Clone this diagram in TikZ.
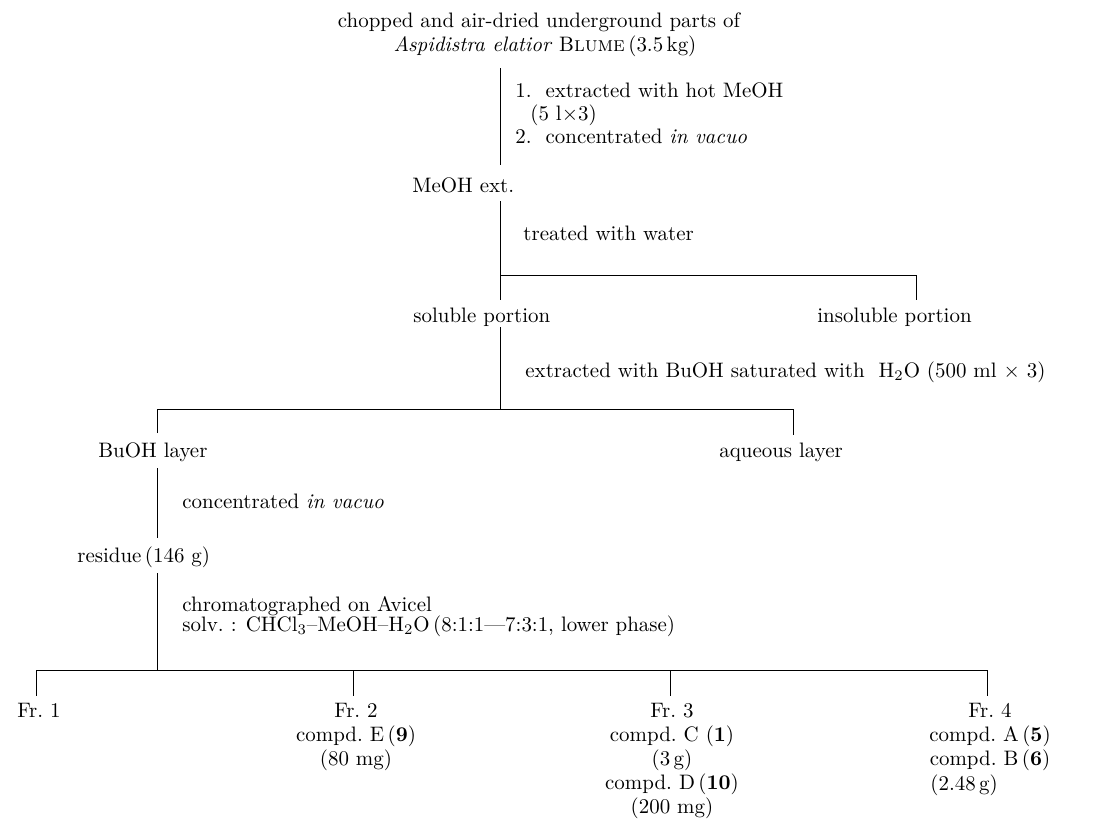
\documentclass[tikz,border=0pt]{standalone}
\usepackage{amsmath}
\usepackage{tikz}
\usetikzlibrary{positioning,calc}

\begin{document}
\begin{tikzpicture}[
  x=0.0168cm, y=-0.0168cm,
  lab/.style={font=\fontsize{10}{11.5}\selectfont, inner sep=0pt, anchor=base west},
  cen/.style={font=\fontsize{10}{11.5}\selectfont, inner sep=0pt, anchor=base},
  frc/.style={font=\fontsize{10}{11.5}\selectfont, inner sep=0pt, anchor=north, align=center},
  ln/.style={line width=0.45pt, black},
]
\useasboundingbox (0,0) rectangle (1115,834);

% Top: starting material and MeOH extraction
\node[cen] (src1) at (539,28) {chopped and air-dried underground parts of};
\node[cen] (src2) at (545,52) {\textit{Aspidistra elatior} B\textsc{lume}\,(3.5\,kg)};
\node[lab] (st1) at (515,98) {1.\ \ extracted with hot MeOH};
\node[lab] (st1b) at (530,120) {(5 l$\times$3)};
\node[lab] (st2) at (515,143) {2.\ \ concentrated \textit{in vacuo}};
\node[lab] (meoh) at (412,192) {MeOH ext.};
\coordinate (a0) at (500,68);
\coordinate (a1) at (500,165);
\draw[ln] (a0) -- (a1);

% water partition
\node[lab] (water) at (523,240) {treated with water};
\node[lab] (sol) at (413,322) {soluble portion};
\node[lab] (insol) at (817,322) {insoluble portion};
\coordinate (b0) at (500,201);
\coordinate (b1) at (500,300);
\coordinate (b2) at (500,275);
\coordinate (b3) at (916,275);
\coordinate (b4) at (916,300);
\draw[ln] (b0) -- (b1);
\draw[ln] (b2) -- (b3) -- (b4);

% BuOH partition
\node[lab] (buext) at (525,377) {extracted with BuOH saturated with \ H$_2$O (500 ml $\times$ 3)};
\node[lab] (buoh) at (98,457) {BuOH layer};
\node[lab] (aq) at (719,457) {aqueous layer};
\coordinate (c0) at (500,327);
\coordinate (c1) at (500,409);
\coordinate (c2) at (157,409);
\coordinate (c3) at (793,409);
\coordinate (c4) at (157,433);
\coordinate (c5) at (793,435);
\draw[ln] (c0) -- (c1);
\draw[ln] (c4) -- (c2) -- (c3) -- (c5);

% concentration of BuOH layer
\node[lab] (conc) at (182,508) {concentrated \textit{in vacuo}};
\node[lab] (res) at (77,562) {residue\,(146 g)};
\coordinate (d0) at (157,468);
\coordinate (d1) at (157,538);
\draw[ln] (d0) -- (d1);

% column chromatography
\node[lab] (chr1) at (182,611) {chromatographed on Avicel};
\node[lab] (chr2) at (182,631) {solv.\ : CHCl$_3$--MeOH--H$_2$O\,(8:1:1---7:3:1, lower phase)};
\coordinate (e0) at (157,573);
\coordinate (e1) at (157,670);
\coordinate (e2) at (36,670);
\coordinate (e3) at (987,670);
\draw[ln] (e0) -- (e1);
\draw[ln] (e2) -- (e3);
\foreach \x/\n in {36/1, 353/2, 670/3, 987/4}{
  \coordinate (f\n) at (\x,670);
  \coordinate (g\n) at (\x,696);
  \draw[ln] (f\n) -- (g\n);
}

% fractions
\node[frc] (fr1) at (39,703) {Fr.\ 1};
\node[frc] (fr2) at (356,703) {Fr.\ 2\\compd.\ E\,(\textbf{9})\\(80 mg)};
\node[frc] (fr3) at (672,703) {Fr.\ 3\\compd.\ C (\textbf{1})\\(3\,g)\\compd.\ D\,(\textbf{10})\\(200 mg)};
\node[frc] (fr4) at (990,703) {Fr.\ 4\\compd.\ A\,(\textbf{5})\\compd.\ B\,(\textbf{6})};
\node[lab] (fr4w) at (930,790) {(2.48\,g)};
\end{tikzpicture}
\end{document}
